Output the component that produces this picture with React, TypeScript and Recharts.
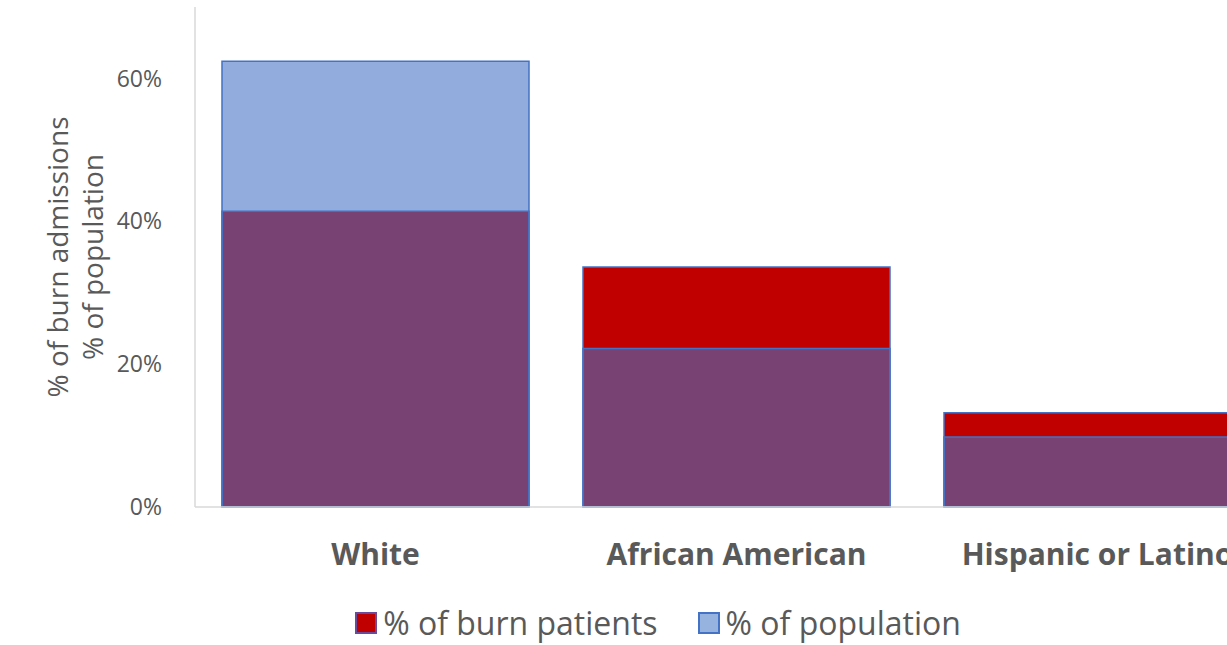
import React from "react"
import { BarChart, Bar, XAxis, YAxis, Legend, Label } from "recharts"

const categories = ["White", "African American", "Hispanic or Latino"]
const burnPatients = [0.414, 0.336, 0.132]
const population = [0.624, 0.222, 0.098]
const yTicks = [0, 0.2, 0.4, 0.6]

const data = categories.map((name, i) => ({
  name,
  burn: burnPatients[i],
  pop: population[i],
}))

const FONT = "'Open Sans', sans-serif"
const GREY = "#595959"

function YTitle({ viewBox }: any) {
  const cy = viewBox ? viewBox.y + viewBox.height / 2 : 258
  return (
    <g fontFamily={FONT} fontSize={28} fill={GREY}>
      <text x={57} y={cy} transform={`rotate(-90, 57, ${cy})`} textAnchor="middle" dominantBaseline="central">
        % of burn admissions
      </text>
      <text x={92} y={cy} transform={`rotate(-90, 92, ${cy})`} textAnchor="middle" dominantBaseline="central">
        % of population
      </text>
    </g>
  )
}

function LegendBox() {
  const items = [
    { label: "% of burn patients", fill: "#C00000", stroke: "#6a4a9a" },
    { label: "% of population", fill: "#95B3DE", stroke: "#4472C4" },
  ]
  return (
    <div style={{ display: "flex", justifyContent: "center", gap: 40, marginLeft: 38, fontFamily: FONT, fontSize: 32, lineHeight: "40px", color: GREY, height: 48, alignItems: "center", paddingTop: 4, boxSizing: "border-box" }}>
      {items.map((it) => (
        <div key={it.label} style={{ display: "flex", alignItems: "center" }}>
          <span style={{ display: "inline-block", width: 18, height: 18, background: it.fill, border: `2px solid ${it.stroke}`, marginRight: 6 }} />
          {it.label}
        </div>
      ))}
    </div>
  )
}

export default function App() {
  return (
    <div style={{ position: "fixed", left: 0, top: 0, width: 1227, height: 645, overflow: "hidden", background: "#fff" }}>
      <BarChart
        width={1320}
        height={645}
        data={data}
        margin={{ top: 7, right: 42, left: 0, bottom: 0 }}
        barSize={307}
        barGap={-307}
      >
        <XAxis
          dataKey="name"
          axisLine={{ stroke: "#d9d9d9", strokeWidth: 1.5 }}
          tickLine={false}
          height={90}
          interval={0}
          tick={{ fontFamily: FONT, fontSize: 30, fontWeight: 700, fill: GREY }}
          tickMargin={31}
        />
        <YAxis
          width={195}
          domain={[0, 0.7]}
          ticks={yTicks}
          axisLine={{ stroke: "#d9d9d9", strokeWidth: 1.5 }}
          tickLine={false}
          tickMargin={27}
          tickFormatter={(v: number) => `${Math.round(v * 100)}%`}
          tick={{ fontFamily: FONT, fontSize: 23, fill: GREY }}
        >
          <Label content={<YTitle />} />
        </YAxis>
        <Legend verticalAlign="bottom" content={<LegendBox />} />
        <Bar dataKey="burn" fill="#C00000" stroke="#4472C4" strokeWidth={1.5} isAnimationActive={false} />
        <Bar dataKey="pop" fill="#4472C4" fillOpacity={0.58} stroke="#4472C4" strokeWidth={1.5} isAnimationActive={false} />
      </BarChart>
    </div>
  )
}
